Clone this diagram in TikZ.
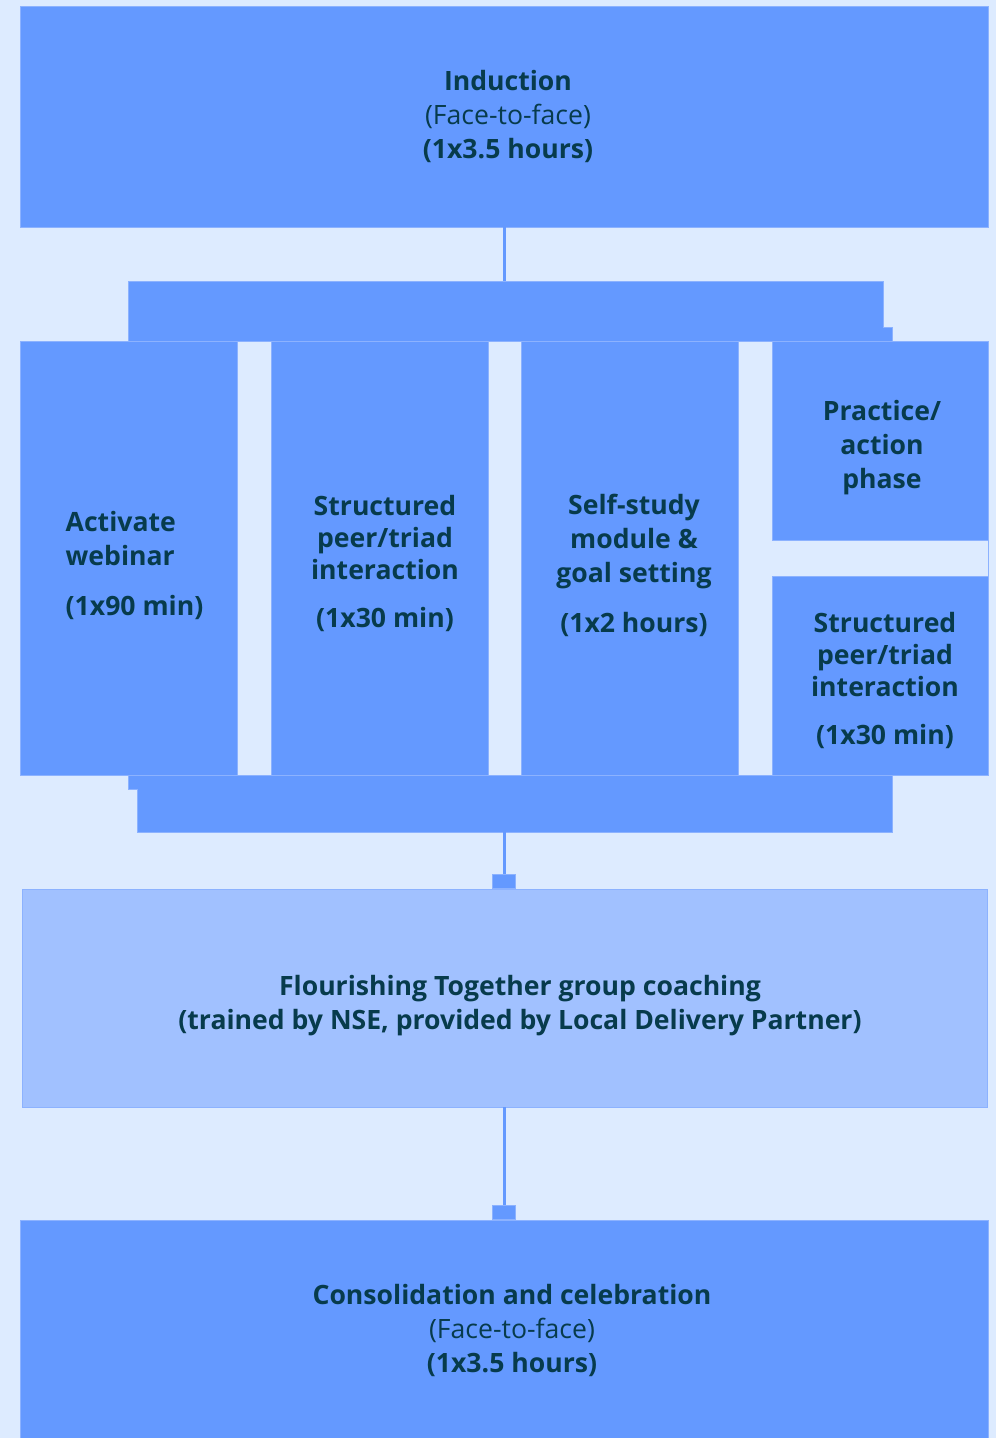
\documentclass[tikz,border=0pt]{standalone}
\usepackage{fontspec}
\setmainfont{Open Sans}
\usetikzlibrary{calc,positioning}
\definecolor{pagebg}{HTML}{DDEBFF}
\definecolor{boxblue}{HTML}{6499FF}
\definecolor{boxedge}{HTML}{8CB2FF}
\definecolor{coachblue}{HTML}{A1C1FF}
\definecolor{inktext}{HTML}{073B4C}
\tikzset{
  blk/.style={fill=boxblue, draw=boxedge, line width=0.4pt, inner sep=0pt},
  gap/.style={fill=pagebg, draw=boxedge, line width=0.4pt, inner sep=0pt},
  txt/.style={text=inktext, align=center, font=\fontsize{13.3}{17}\selectfont},
  conn/.style={draw=boxblue, line width=1.5pt},
  sq/.style={fill=boxblue, draw=boxedge, line width=0.4pt, minimum width=11.5pt, minimum height=7pt, inner sep=0pt}
}

\begin{document}
\begin{tikzpicture}[x=0.5pt,y=-0.5pt]
    \fill[pagebg] (0,0) rectangle (996,1438);
    \useasboundingbox (0,0) rectangle (996,1438);

    \node[blk, minimum width=484pt, minimum height=110.5pt] (induct) at (504,116.5) {};
    \node[txt] (inducttxt) at ([xshift=2pt]induct.center)
      {\textbf{Induction}\\(Face-to-face)\\\textbf{(1x3.5 hours)}};

    \node[blk, minimum width=377.5pt, minimum height=254pt] (grpA) at (505.5,535) {};
    \node[blk, minimum width=377.5pt, minimum height=252.5pt] (grpB) at (514.5,579.5) {};
    \fill[boxblue] (128.5,327.5) rectangle (882.5,788.5);

    \node[gap, minimum width=17pt, minimum height=217pt] (gapa) at (254,558) {};
    \node[gap, minimum width=16.5pt, minimum height=217pt] (gapb) at (504.5,558) {};
    \node[gap, minimum width=17pt, minimum height=217pt] (gapc) at (755,558) {};
    \node[gap, minimum width=108pt, minimum height=18pt] (gapd) at (880,558) {};
    \fill[pagebg] (738.5,540.5) rectangle (772.5,575.5);

    \node[blk, minimum width=108.5pt, minimum height=217pt] (activ) at (128.5,558) {};
    \node[txt, align=left] (activtxt) at ([xshift=3pt,yshift=-3.5pt]activ.center)
      {\textbf{Activate}\\\textbf{webinar}\\[8pt]\textbf{(1x90 min)}};
    \node[blk, minimum width=108.5pt, minimum height=217pt] (peer) at (379.5,558) {};
    \node[txt] (peertxt) at ([xshift=2.75pt,yshift=-2.5pt]peer.center)
      {\textbf{Structured}\\[-1pt]\textbf{peer/triad}\\[-1pt]\textbf{interaction}\\[7pt]\textbf{(1x30 min)}};
    \node[blk, minimum width=108.5pt, minimum height=217pt] (selfstudy) at (629.5,558) {};
    \node[txt] (selfstudytxt) at ([xshift=2.25pt,yshift=-3.5pt]selfstudy.center)
      {\textbf{Self-study}\\\textbf{module \&}\\\textbf{goal setting}\\[8pt]\textbf{(1x2 hours)}};
    \node[blk, minimum width=108pt, minimum height=99.5pt] (practice) at (880,440.5) {};
    \node[txt] (practicetxt) at ([xshift=1pt,yshift=-3.5pt]practice.center)
      {\textbf{Practice/}\\\textbf{action}\\\textbf{phase}};
    \node[blk, minimum width=108pt, minimum height=99.5pt] (peertwo) at (880,675.5) {};
    \node[txt] (peertwotxt) at ([xshift=2.5pt,yshift=-2.5pt]peertwo.center)
      {\textbf{Structured}\\[-1pt]\textbf{peer/triad}\\[-1pt]\textbf{interaction}\\[7pt]\textbf{(1x30 min)}};

    \node[blk, fill=coachblue, minimum width=482.5pt, minimum height=109pt] (coach) at (504.5,998) {};
    \node[txt] (coachtxt) at ([xshift=7.75pt,yshift=-4pt]coach.center)
      {\textbf{Flourishing Together group coaching}\\\textbf{(trained by NSE, provided by Local Delivery Partner)}};

    \node[blk, minimum width=484pt, minimum height=112pt] (consol) at (504,1332) {};
    \node[txt] (consoltxt) at ([xshift=4pt,yshift=0.75pt]consol.center)
      {\textbf{Consolidation and celebration}\\(Face-to-face)\\\textbf{(1x3.5 hours)}};

    \draw[conn] (induct.south) -- (induct.south |- grpA.north);
    \draw[conn] (grpB.south -| induct.south) -- (coach.north -| induct.south)
      node[sq, pos=1, anchor=south] (sqa) {};
    \draw[conn] (coach.south -| induct.south) -- (consol.north -| induct.south)
      node[sq, pos=1, anchor=south] (sqb) {};
\end{tikzpicture}
\end{document}
